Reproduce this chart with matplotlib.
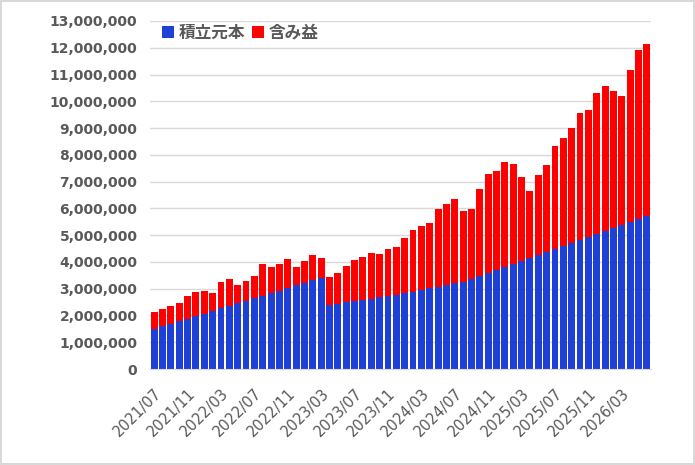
import matplotlib
matplotlib.use("Agg")
import matplotlib.pyplot as plt
import pandas as pd
from matplotlib.ticker import FuncFormatter, MultipleLocator

# 積立元本と含み益 (単位: 百万円)
months = [p.strftime("%Y/%m") for p in pd.period_range("2021-07", "2026-06", freq="M")]
principal = [1.50, 1.60, 1.68, 1.80, 1.88, 1.98, 2.05, 2.17, 2.27, 2.35,
             2.47, 2.55, 2.65, 2.72, 2.84, 2.92, 3.02, 3.14, 3.22, 3.32,
             3.39, 2.40, 2.42, 2.49, 2.54, 2.57, 2.62, 2.69, 2.72, 2.77,
             2.84, 2.87, 2.94, 3.01, 3.06, 3.14, 3.21, 3.24, 3.36, 3.46,
             3.59, 3.69, 3.82, 3.92, 4.04, 4.14, 4.27, 4.37, 4.49, 4.59,
             4.71, 4.81, 4.94, 5.04, 5.16, 5.26, 5.39, 5.49, 5.61, 5.71]
gain = [0.62, 0.64, 0.67, 0.66, 0.84, 0.89, 0.86, 0.66, 0.97, 1.00,
        0.66, 0.73, 0.82, 1.19, 0.96, 0.99, 1.08, 0.66, 0.80, 0.93,
        0.75, 1.02, 1.15, 1.34, 1.52, 1.60, 1.70, 1.59, 1.75, 1.77,
        2.07, 2.34, 2.42, 2.46, 2.90, 3.04, 3.15, 2.68, 2.60, 3.28,
        3.71, 3.69, 3.90, 3.73, 3.12, 2.50, 2.97, 3.24, 3.83, 4.03,
        4.28, 4.74, 4.72, 5.26, 5.40, 5.11, 4.80, 5.67, 6.29, 6.42]
series_names = ["積立元本", "含み益"]

principal_yen = [v * 1e6 for v in principal]
gain_yen = [v * 1e6 for v in gain]

text_col = "#595959"

fig = plt.figure(figsize=(6.95, 4.65), dpi=100)
fig.patch.set_edgecolor("#d9d9d9")
fig.patch.set_linewidth(1.5)
ax = fig.add_axes([150 / 695, 1 - 369 / 465, 501 / 695, 348 / 465])

x = list(range(len(months)))
ax.bar(x, principal_yen, width=0.83, color="#1f40d6", label=series_names[0], zorder=3)
ax.bar(x, gain_yen, width=0.83, bottom=principal_yen, color="#ff0000",
       label=series_names[1], zorder=3)

ax.set_xlim(-0.5, len(months) - 0.5)
ax.set_ylim(0, 13e6)
ax.yaxis.set_major_locator(MultipleLocator(1e6))
ax.yaxis.set_major_formatter(FuncFormatter(lambda v, p: f"{int(v):,}"))
ax.grid(axis="y", color="#d9d9d9", linewidth=1, zorder=0)

for s in ["top", "right", "left"]:
    ax.spines[s].set_visible(False)
ax.spines["bottom"].set_color("#d9d9d9")
ax.spines["bottom"].set_zorder(4)

ax.set_xticks(x[::4])
ax.set_xticklabels(months[::4], rotation=45, ha="right", rotation_mode="anchor",
                   fontsize=10.5, color=text_col)
ax.tick_params(axis="x", length=0, pad=12)
ax.tick_params(axis="y", length=0, pad=9, labelsize=10, labelcolor=text_col)
for lab in ax.get_yticklabels():
    lab.set_fontweight("bold")

leg = ax.legend(loc="upper left", bbox_to_anchor=(-0.005, 1.035), ncol=2, frameon=False,
                handlelength=0.7, handleheight=0.7, handletextpad=0.3, columnspacing=0.4,
                prop={"family": ["Noto Sans CJK JP", "DejaVu Sans"], "weight": "bold", "size": 12})
for t in leg.get_texts():
    t.set_color(text_col)

plt.savefig("out.png", dpi=100)
